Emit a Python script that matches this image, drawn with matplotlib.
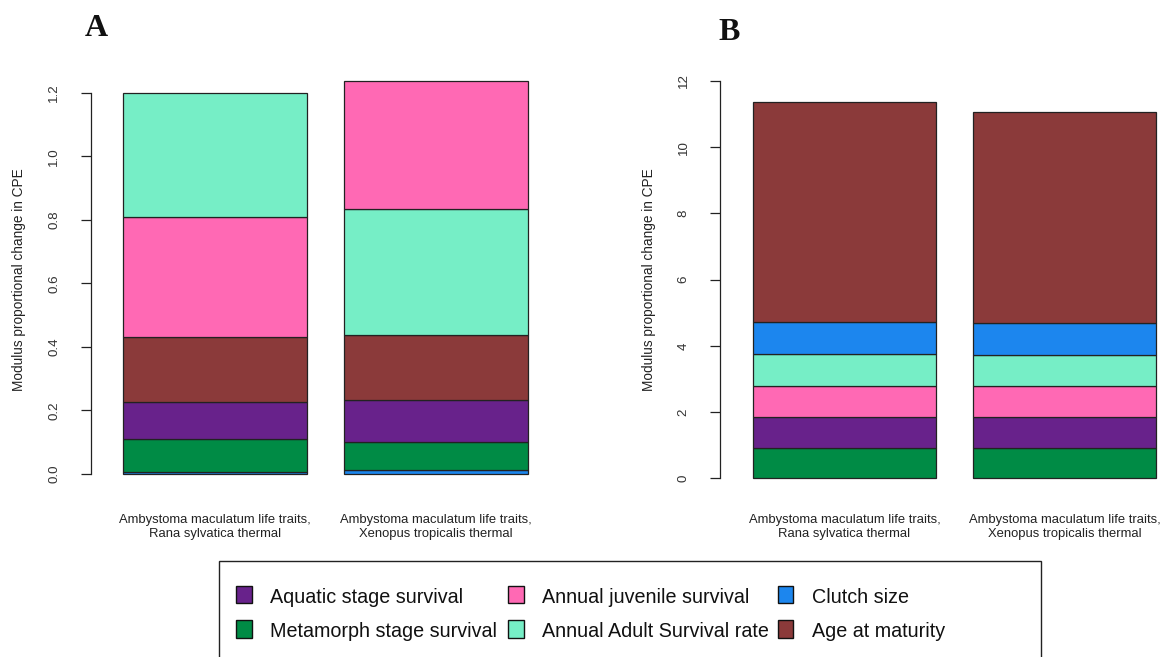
import matplotlib
matplotlib.use("Agg")
import matplotlib.pyplot as plt
from matplotlib.patches import Rectangle
from matplotlib import transforms

plt.rcParams["font.family"] = ["Liberation Sans", "DejaVu Sans"]

# ---- data -------------------------------------------------------------
traits = ["Aquatic stage survival", "Metamorph stage survival",
          "Annual juvenile survival", "Annual Adult Survival rate",
          "Clutch size", "Age at maturity"]
trait_colors = ["#68228B", "#008B45", "#FF69B4", "#76EEC6", "#1C86EE", "#8B3A3A"]

bar_labels = ["Ambystoma maculatum life traits,\nRana sylvatica thermal",
              "Ambystoma maculatum life traits,\nXenopus tropicalis thermal"]

# Panel A: contribution of each trait (same order as `traits`)
a_rana = [0.117, 0.102, 0.378, 0.390, 0.007, 0.206]
a_xenopus = [0.130, 0.090, 0.4045, 0.3955, 0.012, 0.205]
# Panel B
b_rana = [0.915, 0.925, 0.94, 0.975, 0.965, 6.66]
b_xenopus = [0.915, 0.925, 0.95, 0.94, 0.96, 6.36]

# stacking order (bottom to top) for each bar, as indices into `traits`
a_order = [[4, 1, 0, 5, 2, 3], [4, 1, 0, 5, 3, 2]]
b_order = [[1, 0, 2, 3, 4, 5], [1, 0, 2, 3, 4, 5]]

a_ticks = [0.0, 0.2, 0.4, 0.6, 0.8, 1.0, 1.2]
a_ticklabels = ["0.0", "0.2", "0.4", "0.6", "0.8", "1.0", "1.2"]
b_ticks = [0, 2, 4, 6, 8, 10, 12]
b_ticklabels = ["0", "2", "4", "6", "8", "10", "12"]

# ---- layout helpers -----------------------------------------------------
W, H = 1165, 657
fig = plt.figure(figsize=(W / 100, H / 100), dpi=100)


def axes_rect(xlim, ylim, x_px, x_val, x_scale, y_px, y_val, y_scale):
    left = x_px - (x_val - xlim[0]) * x_scale
    width = (xlim[1] - xlim[0]) * x_scale
    bottom = y_px + (y_val - ylim[0]) * y_scale
    height = (ylim[1] - ylim[0]) * y_scale
    return [left / W, 1 - bottom / H, width / W, height / H]


def stacked_panel(ax, series, orders, ticks, ticklabels, top):
    centers = [0.7, 1.9]
    for c, vals, order in zip(centers, series, orders):
        bottom = 0.0
        for i in order:
            ax.bar(c, vals[i], width=1.0, bottom=bottom, color=trait_colors[i],
                   edgecolor="#222222", linewidth=0.9, zorder=2)
            bottom += vals[i]
    for s in ["top", "right", "bottom"]:
        ax.spines[s].set_visible(False)
    ax.spines["left"].set_bounds(0, top)
    ax.spines["left"].set_linewidth(0.9)
    ax.spines["left"].set_color("#222222")
    ax.set_xticks([])
    ax.set_yticks(ticks)
    ax.set_yticklabels(ticklabels, rotation=90, va="center")
    ax.tick_params(axis="y", length=7, width=0.9, color="#222222",
                   pad=15, labelsize=9.6, labelcolor="#333333")
    ax.patch.set_visible(False)
    # category labels under the bars
    tr = transforms.blended_transform_factory(ax.transData, fig.transFigure)
    for c, lab in zip(centers, bar_labels):
        ax.text(c, 1 - 527 / H, lab, transform=tr, ha="center", va="center",
                fontsize=9.4, color="#222222", linespacing=1.25, clip_on=False)


# Panel A
xlim_a, ylim_a = (0.026, 2.6), (-0.05, 1.29)
ax_a = fig.add_axes(axes_rect(xlim_a, ylim_a, 123, 0.2, 184, 474, 0.0, 317.75))
ax_a.set_xlim(*xlim_a)
ax_a.set_ylim(*ylim_a)
stacked_panel(ax_a, [a_rana, a_xenopus], a_order, a_ticks, a_ticklabels, 1.2)

# Panel B
xlim_b, ylim_b = (0.024, 2.6), (-0.5, 12.6)
ax_b = fig.add_axes(axes_rect(xlim_b, ylim_b, 752.7, 0.2, 183.5, 478.3, 0.0, 33.11))
ax_b.set_xlim(*xlim_b)
ax_b.set_ylim(*ylim_b)
stacked_panel(ax_b, [b_rana, b_xenopus], b_order, b_ticks, b_ticklabels, 12)

# y-axis titles
for xpx in (19, 649):
    fig.text(xpx / W, 1 - 280 / H, "Modulus proportional change in CPE",
             rotation=90, ha="center", va="center", fontsize=9.8, color="#222222")

# panel letters
for letter, xpx, ybase in (("A", 96, 36), ("B", 729, 40.5)):
    fig.text(xpx / W, 1 - ybase / H, letter, ha="center", va="baseline",
             fontsize=23, fontweight="bold",
             family=["Liberation Serif", "DejaVu Serif"], color="#111111")

# ---- legend box ---------------------------------------------------------
fig.add_artist(Rectangle((219 / W, 1 - 680 / H), (1041 - 219) / W, (680 - 561) / H,
                         transform=fig.transFigure, facecolor="none",
                         edgecolor="#222222", linewidth=1.0, clip_on=False))
col_square_x = [244, 516, 785.5]
col_text_x = [270, 541.7, 811.7]
row_center_y = [594.5, 629]
row_baseline_y = [603.3, 637]
legend_layout = [[0, 2, 4], [1, 3, 5]]  # trait indices per row
sq_w, sq_h = 15.5, 17.5
for r, row in enumerate(legend_layout):
    for c, i in enumerate(row):
        fig.add_artist(Rectangle(((col_square_x[c] - sq_w / 2) / W,
                                  1 - (row_center_y[r] + sq_h / 2) / H),
                                 sq_w / W, sq_h / H, transform=fig.transFigure,
                                 facecolor=trait_colors[i], edgecolor="#111111",
                                 linewidth=1.0))
        fig.text(col_text_x[c] / W, 1 - row_baseline_y[r] / H, traits[i],
                 ha="left", va="baseline", fontsize=14.2, color="#111111")

fig.savefig("out.png", dpi=100)
